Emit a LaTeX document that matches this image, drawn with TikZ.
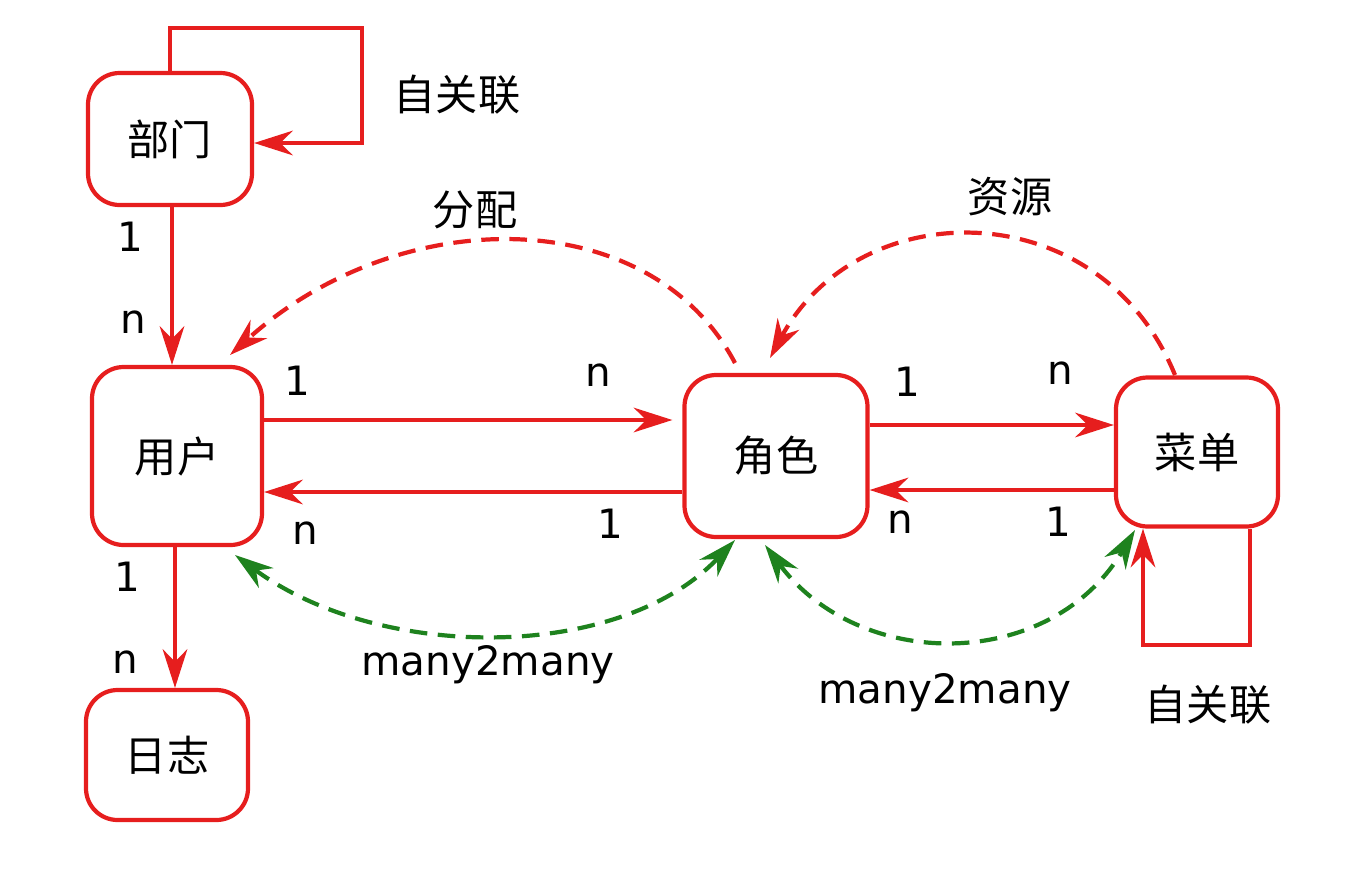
\documentclass[tikz,border=0pt]{standalone}
\usepackage{fontspec}
\setmainfont{DejaVu Sans}
\newfontfamily\cjk{Noto Sans CJK SC}
\usetikzlibrary{arrows.meta}
\definecolor{myred}{RGB}{230,30,30}
\definecolor{mygreen}{RGB}{30,130,30}
\tikzset{
	box/.style={draw=myred, line width=1.2pt, rounded corners=9pt, font=\cjk\fontsize{12}{14}\selectfont},
	rel/.style={myred, line width=1.2pt, -{Stealth[length=11pt,width=7pt]}},
	dashrel/.style={rel, dash pattern=on 5pt off 3pt},
	m2m/.style={mygreen, line width=1.2pt, dash pattern=on 5pt off 3pt, {Stealth[length=11pt,width=7pt]}-{Stealth[length=11pt,width=7pt]}},
	lbl/.style={font=\fontsize{11.5}{13}\selectfont},
	cn/.style={font=\cjk\fontsize{12}{14}\selectfont}
}
\begin{document}
\begin{tikzpicture}
	\useasboundingbox (0,0) rectangle (13.5,8.82);
	\node[box, minimum width=1.64cm, minimum height=1.32cm] (dept) at (1.70,7.43) {部门};
	\node[box, minimum width=1.70cm, minimum height=1.78cm] (user) at (1.77,4.26) {用户};
	\node[box, minimum width=1.62cm, minimum height=1.30cm] (log)  at (1.67,1.27) {日志};
	\node[box, minimum width=1.83cm, minimum height=1.62cm] (role) at (7.76,4.26) {角色};
	\node[box, minimum width=1.62cm, minimum height=1.49cm] (menu) at (11.97,4.30) {菜单};
	
	% self loops
	\coordinate (d1) at (1.70,8.54);
	\coordinate (d2) at (3.62,8.54);
	\coordinate (d3) at (3.62,7.39);
	\draw[rel] (dept.north -| d1) -- (d1) -- (d2) -- (d3) -- (dept.east |- d3);
	\node[cn] (dlbl) at (4.57,7.87) {自关联};
	\coordinate (m1) at (12.50,2.37);
	\coordinate (m2) at (11.43,2.37);
	\draw[rel] (menu.south -| m1) -- (m1) -- (m2) -- (menu.south -| m2);
	\node[cn] (mlbl) at (12.08,1.77) {自关联};
	
	% one to many
	\draw[rel] (dept.south -| 1.72,0) -- (user.north -| 1.72,0);
	\node[lbl] at (1.30,6.45) {1};
	\node[lbl] at (1.33,5.60) {n};
	\draw[rel] (user.south -| 1.75,0) -- (log.north -| 1.75,0);
	\node[lbl] at (1.27,3.05) {1};
	\node[lbl] at (1.25,2.20) {n};
	
	\draw[rel] (user.east |- 0,4.62) -- ([xshift=-1mm]role.west |- 0,4.62);
	\node[lbl] at (2.97,5.01) {1};
	\node[lbl] at (5.98,5.07) {n};
	\draw[rel] (role.west |- 0,3.90) -- (user.east |- 0,3.90);
	\node[lbl] at (3.05,3.49) {n};
	\node[lbl] at (6.10,3.58) {1};
	
	\draw[rel] (role.east |- 0,4.57) -- (menu.west |- 0,4.57);
	\node[lbl] at (9.07,5.00) {1};
	\node[lbl] at (10.60,5.09) {n};
	\draw[rel] (menu.west |- 0,3.92) -- (role.east |- 0,3.92);
	\node[lbl] at (9.00,3.60) {n};
	\node[lbl] at (10.58,3.60) {1};
	
	% dashed curves
	\draw[dashrel] (7.35,5.19) .. controls (6.5,6.8) and (4.0,6.8) .. (2.30,5.27);
	\node[cn] at (4.75,6.72) {分配};
	\draw[dashrel] (11.75,5.07) .. controls (11.0,6.9) and (8.6,6.9) .. (7.70,5.24);
	\node[cn] at (10.10,6.85) {资源};
	\draw[m2m] (2.35,3.27) .. controls (3.8,2.2) and (6.2,2.2) .. (7.35,3.42);
	\node[lbl] at (4.88,2.17) {many2many};
	\draw[m2m] (7.65,3.37) .. controls (8.6,2.1) and (10.5,2.1) .. (11.35,3.52);
	\node[lbl] at (9.45,1.89) {many2many};
\end{tikzpicture}
\end{document}
